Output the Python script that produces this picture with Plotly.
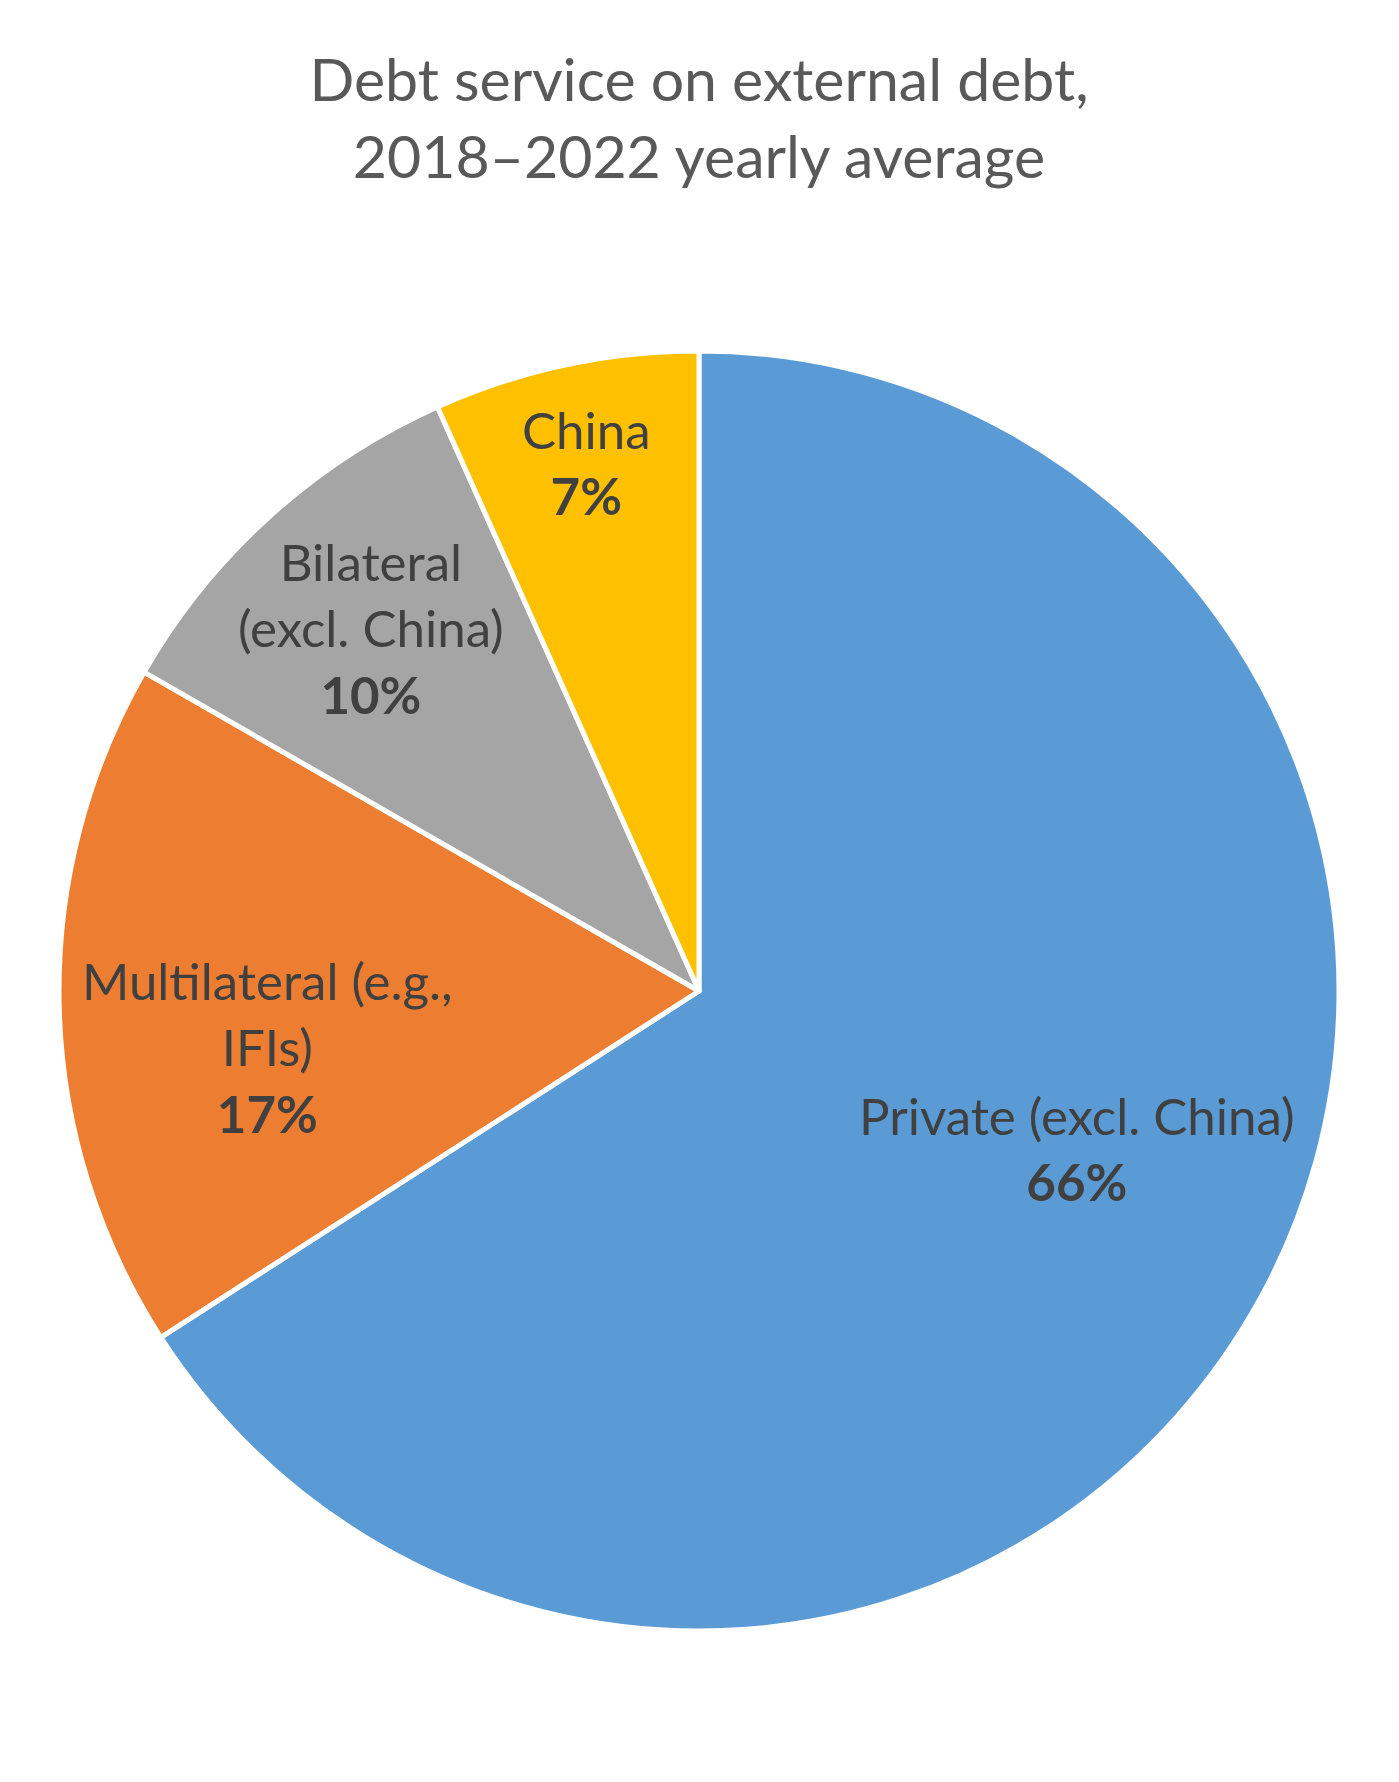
"""
Debt service on external debt, pie by creditor type
"""

import math
import plotly.graph_objects as go

# creditor groups, clockwise from 12 o'clock
labels = ["Private (excl. China)", "Multilateral (e.g.,<br>IFIs)", "Bilateral<br>(excl. China)", "China"]
shares = [65.9, 17.4, 10.0, 6.7]
colors = ["#5B9BD5", "#ED7D31", "#A5A5A5", "#FFC000"]
# label placement: fraction of the radius, and turn away from the slice middle (degrees)
label_r = [0.64, 0.68, 0.764, 0.845]
label_turn = [-6, -6, 0, 0]

W, H = 1399, 1782

# pie placement in figure pixels
cx, cy, R = 691, 983, 640
dom_x = [(cx - R) / W, (cx + R) / W]
dom_y = [1 - (cy + R) / H, 1 - (cy - R) / H]

fig = go.Figure(
    go.Pie(
        labels=labels,
        values=shares,
        sort=False,
        direction="clockwise",
        rotation=0,
        marker=dict(colors=colors, line=dict(color="white", width=5)),
        textinfo="none",
        hoverinfo="label+percent",
        showlegend=False,
        domain=dict(x=dom_x, y=dom_y),
    )
)

# labels near the middle angle of each slice
total = sum(shares)
start = 0
for lab, val, rf, turn in zip(labels, shares, label_r, label_turn):
    mid = (start + val / 2) / total * 2 * math.pi + math.radians(turn)
    start += val
    fig.add_annotation(
        text=f"{lab}<br><b>{round(val / total * 100)}%</b>",
        x=(cx + rf * R * math.sin(mid)) / W,
        y=1 - (cy - rf * R * math.cos(mid)) / H,
        xref="paper",
        yref="paper",
        xanchor="center",
        yanchor="middle",
        showarrow=False,
        font=dict(family="Lato", size=51, color="#404040"),
    )

fig.update_layout(
    width=W,
    height=H,
    margin=dict(l=0, r=0, t=0, b=0),
    paper_bgcolor="white",
    title=dict(
        text="Debt service on external debt,<br>2018–2022 yearly average",
        x=cx / W,
        xanchor="center",
        xref="paper",
        y=1 - 93 / H,
        yanchor="top",
        yref="container",
        font=dict(family="Lato", size=59, color="#595959"),
    ),
)

fig.write_html("out.html")
